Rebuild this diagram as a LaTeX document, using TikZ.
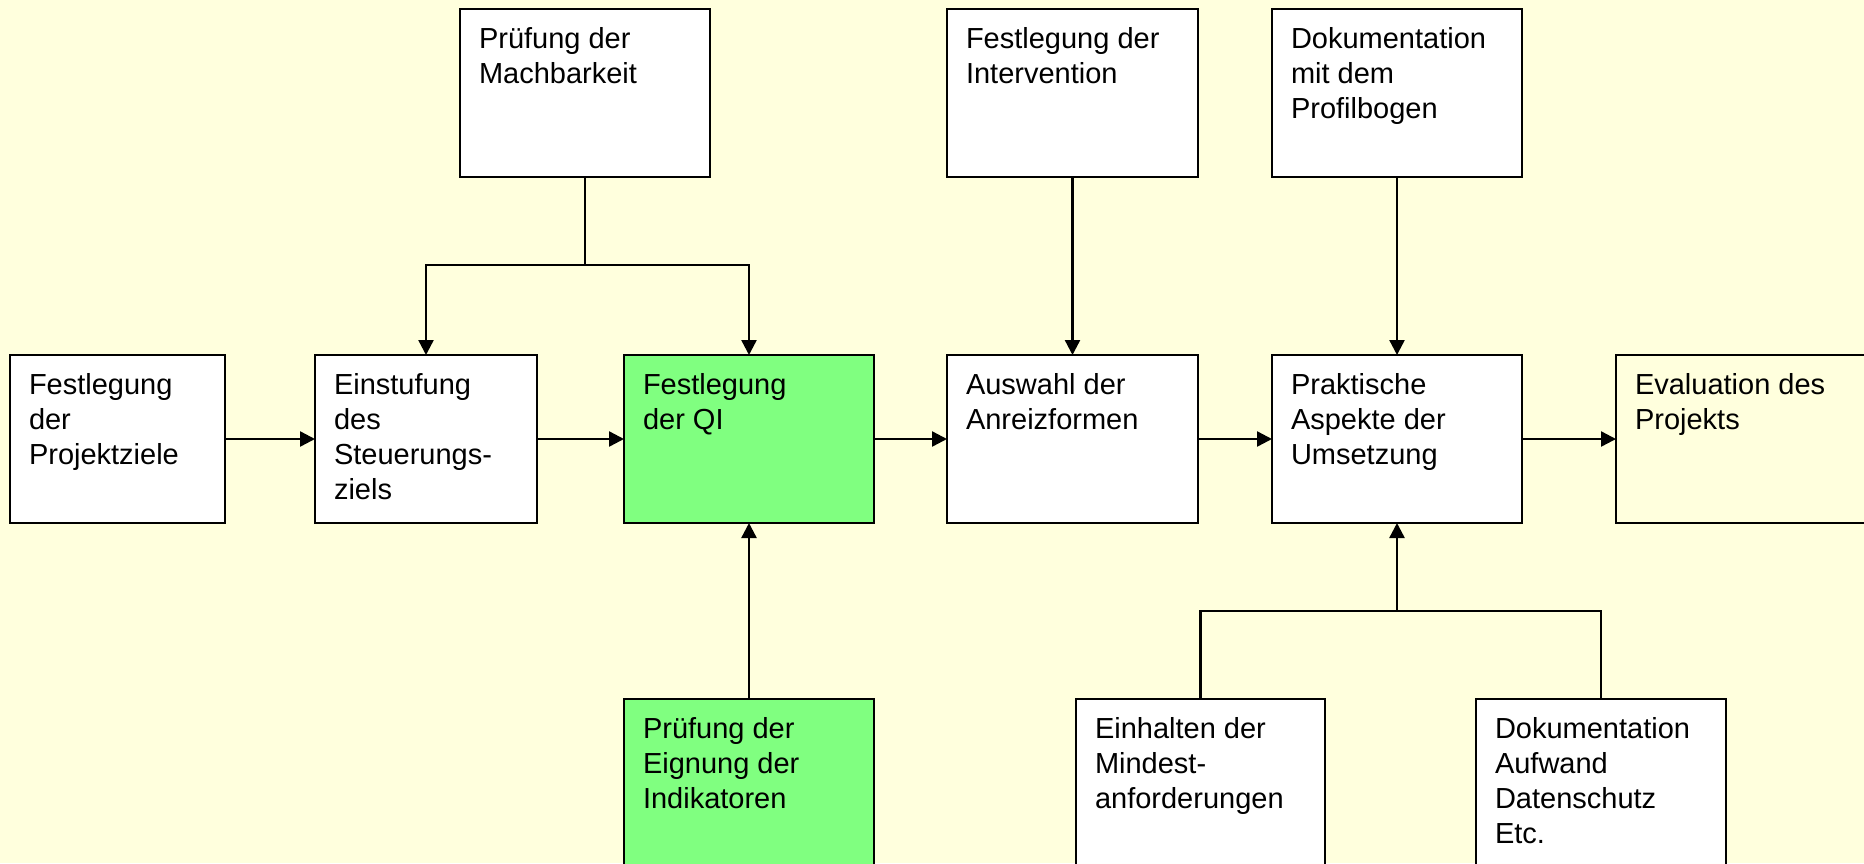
\documentclass[tikz,border=0pt]{standalone}
\usepackage{fontspec}
\setmainfont{Liberation Sans}
\usetikzlibrary{arrows.meta,calc}
\definecolor{bg}{HTML}{FFFFDD}
\definecolor{qgreen}{HTML}{80FF80}
\begin{document}
\begin{tikzpicture}[x=1pt,y=-1pt,
  box/.style={draw=black, line width=2.4pt, fill=white, inner sep=0pt, outer sep=0pt, anchor=north west, minimum height=168pt},
  gbox/.style={box, fill=qgreen},
  ebox/.style={box, fill=none},
  lbl/.style={anchor=north west, inner sep=0pt, outer sep=0pt, align=left, font=\fontsize{29}{35}\selectfont},
  conn/.style={line width=2.4pt, draw=black, line join=miter},
  arr/.style={conn, -{Triangle[length=15pt,width=15pt]}}]
\useasboundingbox (0,0) rectangle (1864,863);
\clip (0,0) rectangle (1864,863);
\fill[bg] (0,0) rectangle (1864,863);

% main row
\node[box, minimum width=215pt] (b1) at (10,355) {};
\node[box, minimum width=222pt] (b2) at (315,355) {};
\node[gbox, minimum width=250pt] (qi) at (624,355) {};
\node[box, minimum width=251pt] (aus) at (947,355) {};
\node[box, minimum width=250pt] (prak) at (1272,355) {};
\node[ebox, minimum width=260pt] (eval) at (1616,355) {};

% top row
\node[box, minimum width=250pt] (mach) at (460,9) {};
\node[box, minimum width=251pt] (inter) at (947,9) {};
\node[box, minimum width=250pt] (dokp) at (1272,9) {};

% bottom row
\node[gbox, minimum width=250pt, minimum height=190pt] (eign) at (624,699) {};
\node[box, minimum width=249pt, minimum height=190pt] (einh) at (1076,699) {};
\node[box, minimum width=250pt, minimum height=190pt] (doka) at (1476,699) {};

% labels
\newcommand{\topstrut}{\rule{0pt}{22pt}}
\node[lbl] (b1t) at ($(b1.north west)+(19,17)$) {\topstrut Festlegung\\der\\Projektziele};
\node[lbl] (b2t) at ($(b2.north west)+(19,17)$) {\topstrut Einstufung\\des\\Steuerungs-\\ziels};
\node[lbl] (qit) at ($(qi.north west)+(19,17)$) {\topstrut Festlegung\\der QI};
\node[lbl] (aust) at ($(aus.north west)+(19,17)$) {\topstrut Auswahl der\\Anreizformen};
\node[lbl] (prakt) at ($(prak.north west)+(19,17)$) {\topstrut Praktische\\Aspekte der\\Umsetzung};
\node[lbl] (evalt) at ($(eval.north west)+(19,17)$) {\topstrut Evaluation des\\Projekts};
\node[lbl] (macht) at ($(mach.north west)+(19,17)$) {\topstrut Prüfung der\\Machbarkeit};
\node[lbl] (intert) at ($(inter.north west)+(19,17)$) {\topstrut Festlegung der\\Intervention};
\node[lbl] (dokpt) at ($(dokp.north west)+(19,17)$) {\topstrut Dokumentation\\mit dem\\Profilbogen};
\node[lbl] (eignt) at ($(eign.north west)+(19,17)$) {\topstrut Prüfung der\\Eignung der\\Indikatoren};
\node[lbl] (einht) at ($(einh.north west)+(19,17)$) {\topstrut Einhalten der\\Mindest-\\anforderungen};
\node[lbl] (dokat) at ($(doka.north west)+(19,17)$) {\topstrut Dokumentation\\Aufwand\\Datenschutz\\Etc.};

% horizontal flow
\draw[arr] (b1.east) -- (b2.west);
\draw[arr] (b2.east) -- (qi.west);
\draw[arr] (qi.east) -- (aus.west);
\draw[arr] (aus.east) -- (prak.west);
\draw[arr] (prak.east) -- (eval.west);

% top connectors
\coordinate (h1) at (0,265);
\coordinate (j1) at (mach.south |- h1);
\draw[conn] (mach.south) -- (j1);
\draw[arr] (j1) -| (b2.north);
\draw[arr] (j1) -| (qi.north);
\draw[arr] (inter.south) -- (aus.north);
\draw[arr] (dokp.south) -- (prak.north);

% bottom connectors
\draw[arr] (eign.north) -- (qi.south);
\coordinate (h2) at (0,611);
\coordinate (j2) at (prak.south |- h2);
\draw[conn] (einh.north) |- (j2) -| (doka.north);
\draw[arr] (j2) -- (prak.south);
\end{tikzpicture}
\end{document}
